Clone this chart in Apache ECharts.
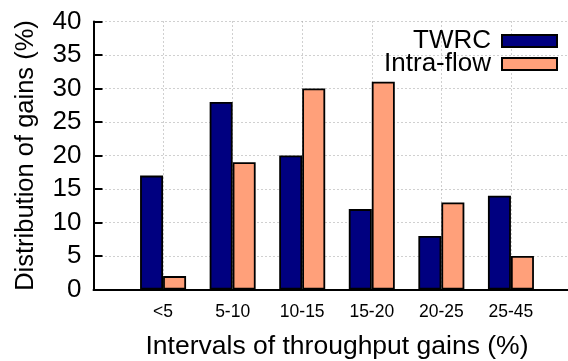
<!DOCTYPE html>
<html>
<head>
    <meta charset="utf-8">
    <script type="text/javascript" src="https://cdn.jsdelivr.net/npm/echarts@6/dist/echarts.min.js"></script>
    <style>
        html, body { margin: 0; padding: 0; background: #fff; }
        #chart { width: 568px; height: 361px; }
    </style>
    <title>Distribution of gains</title>
</head>
<body>
<div id="chart"></div>
<script>
    // categories, padded with an empty slot on each side (gnuplot-style spacing)
    var categories = ['', '<5', '5-10', '10-15', '15-20', '20-25', '25-45', ''];
    var twrc = [null, 17, 28, 20, 12, 8, 14, null];
    var intraFlow = [null, 2, 19, 30, 31, 13, 5, null];
    var yTicks = { min: 0, max: 40, interval: 5 };

    var font = 'Liberation Sans, Arial, sans-serif';
    var dotted = { color: '#a0a0a0', width: 1, type: [1, 3] };

    function legendFor(name, top) {
        return {
            data: [name], right: 10, top: top, align: 'right', padding: 0,
            icon: 'rect', itemWidth: 55, itemHeight: 12,
            textStyle: { fontFamily: font, fontSize: 26, color: '#000', padding: [0, 6, 0, 0] }
        };
    }

    var chart = echarts.init(document.getElementById('chart'));
    var option = {
        animation: false,
        backgroundColor: '#fff',
        grid: { left: 93.5, right: -12.5, top: 21.5, bottom: 71.5, outerBoundsMode: 'none', containLabel: false },
        legend: [legendFor('TWRC', 28), legendFor('Intra-flow', 51)],
        xAxis: {
            type: 'category',
            data: categories,
            boundaryGap: false,
            name: 'Intervals of throughput gains (%)',
            nameLocation: 'middle',
            nameGap: 44,
            nameTextStyle: { fontFamily: font, fontSize: 26.5, color: '#000' },
            axisLine: { lineStyle: { color: '#000', width: 2 } },
            axisTick: { show: false },
            axisLabel: { fontFamily: font, fontSize: 17.5, color: '#000', margin: 14, interval: 0 },
            splitLine: { show: true, lineStyle: dotted }
        },
        yAxis: {
            type: 'value',
            min: yTicks.min, max: yTicks.max, interval: yTicks.interval,
            name: 'Distribution of gains (%)',
            nameLocation: 'middle',
            nameGap: 55,
            nameTextStyle: { fontFamily: font, fontSize: 25.5, color: '#000' },
            axisLine: { show: true, lineStyle: { color: '#000', width: 2 } },
            axisTick: { show: true, inside: true, length: 9, lineStyle: { color: '#000', width: 2 } },
            axisLabel: { fontFamily: font, fontSize: 26, color: '#000', margin: 12 },
            splitLine: { show: true, lineStyle: dotted }
        },
        series: [
            {
                name: 'TWRC', type: 'bar', data: twrc,
                barWidth: 23, barGap: '0%',
                itemStyle: { color: '#000080', borderColor: '#000', borderWidth: 1.8 }
            },
            {
                name: 'Intra-flow', type: 'bar', data: intraFlow,
                barWidth: 23, barGap: '0%',
                itemStyle: { color: '#ffa07a', borderColor: '#000', borderWidth: 1.8 }
            }
        ]
    };
    chart.setOption(option);
</script>
</body>
</html>
